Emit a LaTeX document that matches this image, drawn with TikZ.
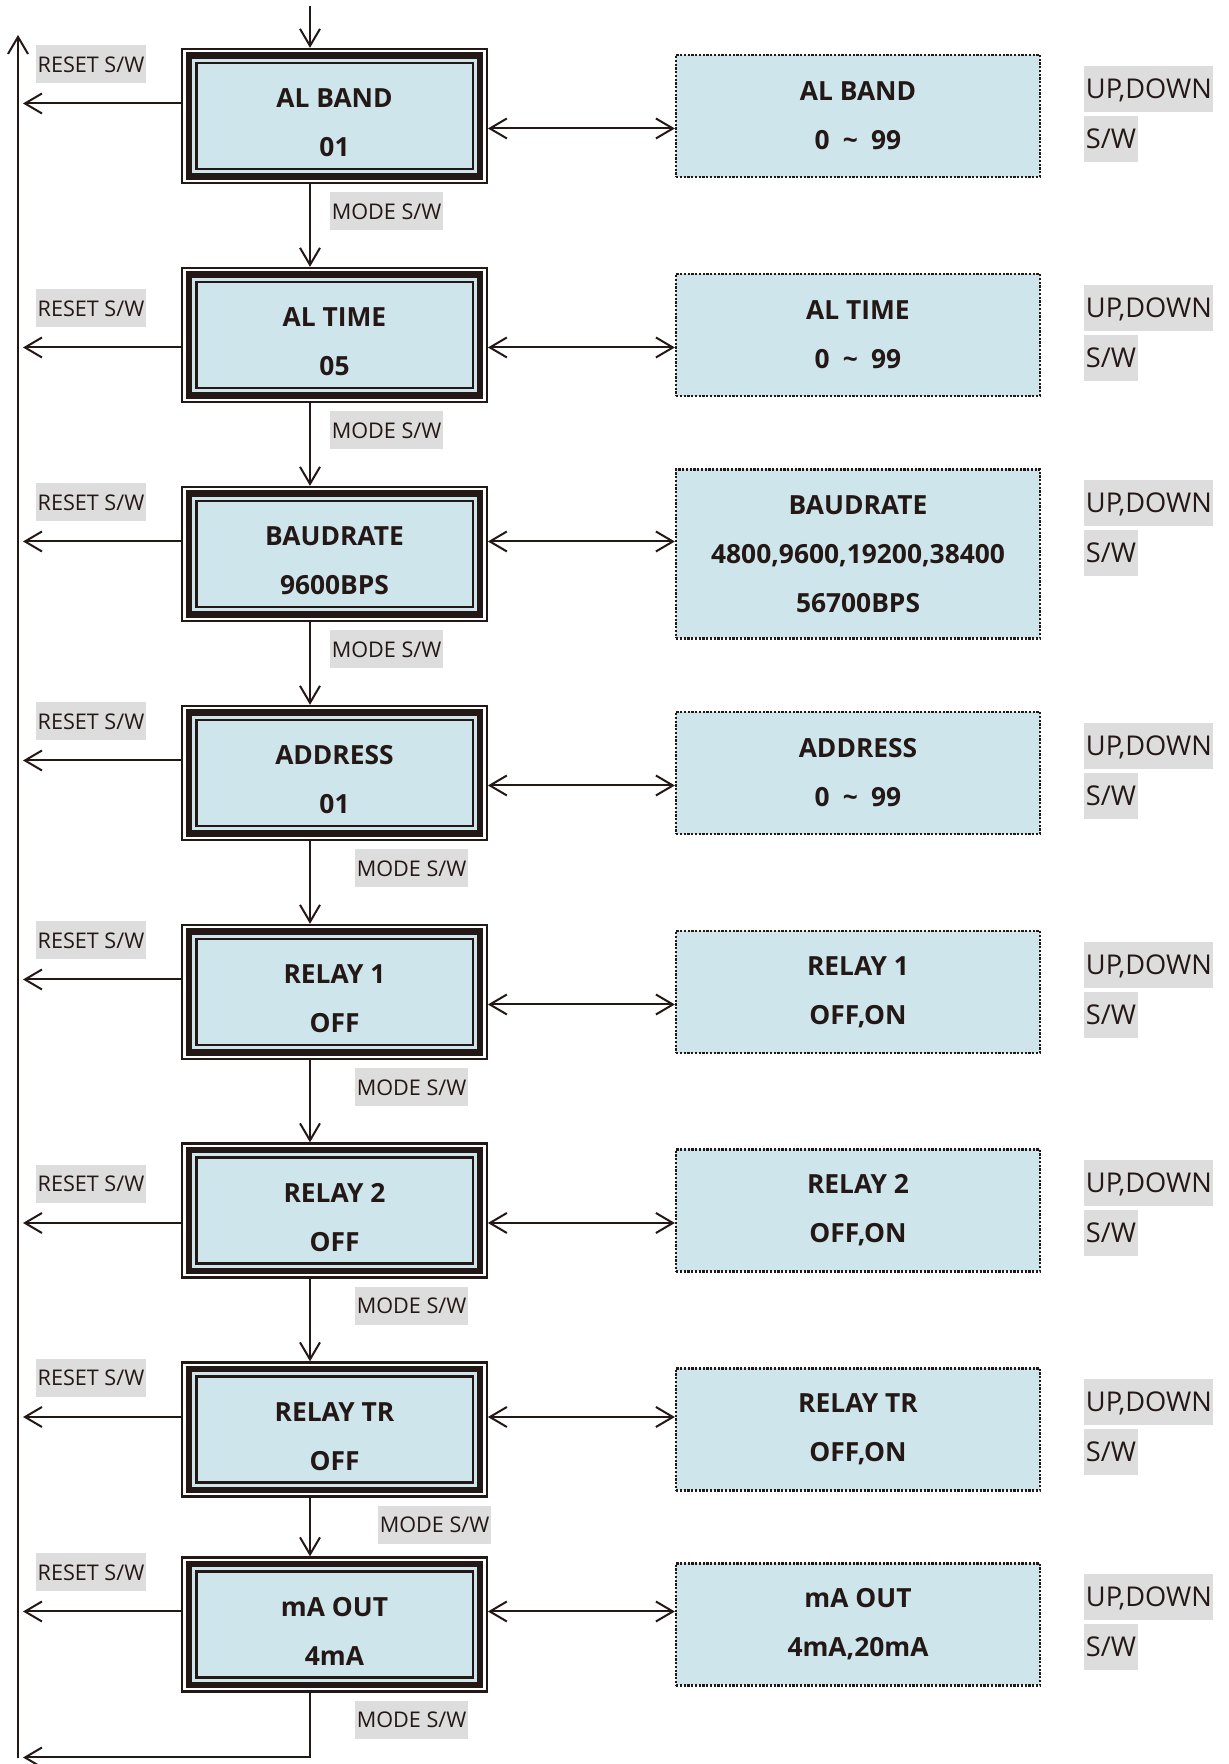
\documentclass[tikz,border=0pt]{standalone}
\usepackage{fontspec}
\setmainfont{Open Sans}
\usetikzlibrary{arrows.meta,positioning}
\definecolor{ink}{HTML}{231815}
\definecolor{boxblue}{HTML}{CEE5EB}
\definecolor{lblgray}{HTML}{DDDDDD}
\newcommand{\tline}{\rule{0pt}{18.7pt}}
\begin{document}
\begin{tikzpicture}[>={Straight Barb[length=0.34cm,width=0.4cm]},
  arr/.style={draw=ink,line width=0.04cm},
  mainbox/.style={draw=ink,line width=0.046cm,fill=white,minimum width=6.09cm,minimum height=2.68cm,
    inner sep=0pt,align=center,text=ink,font=\bfseries\fontsize{15}{27.8}\selectfont,
    path picture={
      \fill[boxblue] ([shift={(0.07cm,0.07cm)}]path picture bounding box.south west) rectangle ([shift={(-0.07cm,-0.07cm)}]path picture bounding box.north east);
      \draw[ink,line width=0.126cm] ([shift={(0.132cm,0.132cm)}]path picture bounding box.south west) rectangle ([shift={(-0.132cm,-0.132cm)}]path picture bounding box.north east);
      \draw[ink,line width=0.05cm] ([shift={(0.28cm,0.28cm)}]path picture bounding box.south west) rectangle ([shift={(-0.28cm,-0.28cm)}]path picture bounding box.north east);
    }},
  valbox/.style={draw=ink,line width=0.045cm,dash pattern=on 0.045cm off 0.03cm,fill=boxblue,minimum width=7.28cm,
    minimum height=2.44cm,align=center,text=ink,font=\bfseries\fontsize{15}{27.8}\selectfont},
  swlbl/.style={fill=lblgray,text=ink,font=\fontsize{12.3}{15}\selectfont,inner xsep=0.03cm,inner ysep=0pt,
    text height=8.8pt,text depth=0pt,minimum height=0.76cm},
  keylbl/.style={fill=lblgray,text=ink,font=\fontsize{15.5}{18}\selectfont,inner xsep=0.03cm,inner ysep=0pt,
    text height=11pt,text depth=0pt,minimum height=0.914cm}]
\useasboundingbox (0,0) rectangle (24.56,35.28);
\coordinate (entry) at (6.2,35.16);
\coordinate (bustop) at (0.36,34.58);
\coordinate (busbot) at (0.36,0.11);
\coordinate (back) at (0.46,0.13);
\coordinate (busx) at (0.46,0);

\node[mainbox] (alband) at (6.69,32.96) {\tline AL BAND\\01};
\node[mainbox] (altime) at (6.69,28.58) {\tline AL TIME\\05};
\node[mainbox] (baud) at (6.69,24.20) {\tline BAUDRATE\\9600BPS};
\node[mainbox] (addr) at (6.69,19.82) {\tline ADDRESS\\01};
\node[mainbox] (relay1) at (6.69,15.44) {\tline RELAY 1\\OFF};
\node[mainbox] (relay2) at (6.69,11.07) {\tline RELAY 2\\OFF};
\node[mainbox] (relaytr) at (6.69,6.69) {\tline RELAY TR\\OFF};
\node[mainbox] (maout) at (6.69,2.79) {\tline mA OUT\\4mA};

\node[valbox] (setband) at (17.16,32.96) {AL BAND\\0\enspace\textasciitilde\enspace 99};
\node[valbox] (settime) at (17.16,28.58) {AL TIME\\0\enspace\textasciitilde\enspace 99};
\node[valbox,minimum height=3.38cm] (setbaud) at (17.16,24.20) {BAUDRATE\\4800,9600,19200,38400\\56700BPS};
\node[valbox] (setaddr) at (17.16,19.82) {ADDRESS\\0\enspace\textasciitilde\enspace 99};
\node[valbox] (setr1) at (17.16,15.44) {RELAY 1\\OFF,ON};
\node[valbox] (setr2) at (17.16,11.07) {RELAY 2\\OFF,ON};
\node[valbox] (settr) at (17.16,6.69) {RELAY TR\\OFF,ON};
\node[valbox] (setma) at (17.16,2.79) {mA OUT\\4mA,20mA};

\node[swlbl] (reset1) at (1.82,33.99) {RESET S/W};
\node[swlbl] (reset2) at (1.82,29.11) {RESET S/W};
\node[swlbl] (reset3) at (1.82,25.23) {RESET S/W};
\node[swlbl] (reset4) at (1.82,20.85) {RESET S/W};
\node[swlbl] (reset5) at (1.82,16.47) {RESET S/W};
\node[swlbl] (reset6) at (1.82,11.60) {RESET S/W};
\node[swlbl] (reset7) at (1.82,7.72) {RESET S/W};
\node[swlbl] (reset8) at (1.82,3.83) {RESET S/W};

\node[swlbl,below right=0.16cm and -0.09cm of alband.south] (mode1) {MODE S/W};
\node[swlbl,below right=0.16cm and -0.09cm of altime.south] (mode2) {MODE S/W};
\node[swlbl,below right=0.16cm and -0.09cm of baud.south] (mode3) {MODE S/W};
\node[swlbl,below right=0.16cm and 0.41cm of addr.south] (mode4) {MODE S/W};
\node[swlbl,below right=0.16cm and 0.41cm of relay1.south] (mode5) {MODE S/W};
\node[swlbl,below right=0.16cm and 0.41cm of relay2.south] (mode6) {MODE S/W};
\node[swlbl,below right=0.16cm and 0.87cm of relaytr.south] (mode7) {MODE S/W};
\node[swlbl,below right=0.16cm and 0.41cm of maout.south] (mode8) {MODE S/W};

\node[keylbl,below right=0.234cm and 0.86cm of setband.north east] (updown1) {UP,DOWN};
\node[keylbl,below right=0.072cm and 0cm of updown1.south west] (sw1) {S/W};
\node[keylbl,below right=0.234cm and 0.86cm of settime.north east] (updown2) {UP,DOWN};
\node[keylbl,below right=0.072cm and 0cm of updown2.south west] (sw2) {S/W};
\node[keylbl,below right=0.234cm and 0.86cm of setbaud.north east] (updown3) {UP,DOWN};
\node[keylbl,below right=0.072cm and 0cm of updown3.south west] (sw3) {S/W};
\node[keylbl,below right=0.234cm and 0.86cm of setaddr.north east] (updown4) {UP,DOWN};
\node[keylbl,below right=0.072cm and 0cm of updown4.south west] (sw4) {S/W};
\node[keylbl,below right=0.234cm and 0.86cm of setr1.north east] (updown5) {UP,DOWN};
\node[keylbl,below right=0.072cm and 0cm of updown5.south west] (sw5) {S/W};
\node[keylbl,below right=0.234cm and 0.86cm of setr2.north east] (updown6) {UP,DOWN};
\node[keylbl,below right=0.072cm and 0cm of updown6.south west] (sw6) {S/W};
\node[keylbl,below right=0.234cm and 0.86cm of settr.north east] (updown7) {UP,DOWN};
\node[keylbl,below right=0.072cm and 0cm of updown7.south west] (sw7) {S/W};
\node[keylbl,below right=0.234cm and 0.86cm of setma.north east] (updown8) {UP,DOWN};
\node[keylbl,below right=0.072cm and 0cm of updown8.south west] (sw8) {S/W};

\draw[arr,->] (entry) -- ([xshift=-0.49cm]alband.north);
\draw[arr,->] ([xshift=-0.49cm]alband.south) -- ([xshift=-0.49cm]altime.north);
\draw[arr,->] ([xshift=-0.49cm]altime.south) -- ([xshift=-0.49cm]baud.north);
\draw[arr,->] ([xshift=-0.49cm]baud.south) -- ([xshift=-0.49cm]addr.north);
\draw[arr,->] ([xshift=-0.49cm]addr.south) -- ([xshift=-0.49cm]relay1.north);
\draw[arr,->] ([xshift=-0.49cm]relay1.south) -- ([xshift=-0.49cm]relay2.north);
\draw[arr,->] ([xshift=-0.49cm]relay2.south) -- ([xshift=-0.49cm]relaytr.north);
\draw[arr,->] ([xshift=-0.49cm]relaytr.south) -- ([xshift=-0.49cm]maout.north);
\draw[arr,->] ([xshift=-0.49cm]maout.south) |- (back);
\draw[arr,->] (busbot) -- (bustop);

\draw[arr,->] ([yshift=0.25cm]alband.west) -- ([yshift=0.25cm]alband.west -| busx);
\draw[arr,->] ([yshift=-0.25cm]altime.west) -- ([yshift=-0.25cm]altime.west -| busx);
\draw[arr,->] ([yshift=0.25cm]baud.west) -- ([yshift=0.25cm]baud.west -| busx);
\draw[arr,->] ([yshift=0.25cm]addr.west) -- ([yshift=0.25cm]addr.west -| busx);
\draw[arr,->] ([yshift=0.25cm]relay1.west) -- ([yshift=0.25cm]relay1.west -| busx);
\draw[arr,->] ([yshift=-0.25cm]relay2.west) -- ([yshift=-0.25cm]relay2.west -| busx);
\draw[arr,->] ([yshift=0.25cm]relaytr.west) -- ([yshift=0.25cm]relaytr.west -| busx);
\draw[arr,->] ([yshift=0.26cm]maout.west) -- ([yshift=0.26cm]maout.west -| busx);

\draw[arr,<->] ([yshift=-0.25cm]alband.east) -- ([yshift=-0.25cm]setband.west);
\draw[arr,<->] ([yshift=-0.25cm]altime.east) -- ([yshift=-0.25cm]settime.west);
\draw[arr,<->] ([yshift=0.25cm]baud.east) -- ([yshift=0.25cm]setbaud.west);
\draw[arr,<->] ([yshift=-0.25cm]addr.east) -- ([yshift=-0.25cm]setaddr.west);
\draw[arr,<->] ([yshift=-0.25cm]relay1.east) -- ([yshift=-0.25cm]setr1.west);
\draw[arr,<->] ([yshift=-0.25cm]relay2.east) -- ([yshift=-0.25cm]setr2.west);
\draw[arr,<->] ([yshift=0.25cm]relaytr.east) -- ([yshift=0.25cm]settr.west);
\draw[arr,<->] ([yshift=0.26cm]maout.east) -- ([yshift=0.26cm]setma.west);
\end{tikzpicture}
\end{document}
